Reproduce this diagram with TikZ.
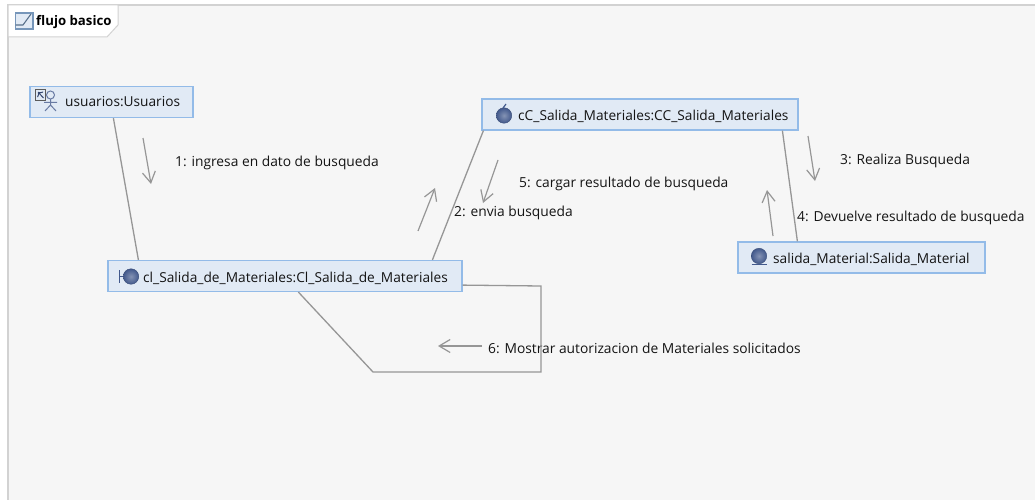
\documentclass[tikz,border=0pt]{standalone}
\usepackage{fontspec}
\setmainfont{Open Sans}
\usetikzlibrary{calc,arrows.meta}
\definecolor{framegray}{HTML}{D2D2D2}
\definecolor{panelgray}{HTML}{F6F6F6}
\definecolor{boxfill}{HTML}{E1EAF5}
\definecolor{boxline}{HTML}{93BBE8}
\definecolor{linkgray}{HTML}{969696}
\definecolor{ballblue}{HTML}{42598C}
\definecolor{textgray}{HTML}{141414}
\tikzset{
    lifeline/.style={draw=boxline, fill=boxfill, line width=1.2pt, minimum height=31pt, inner sep=0pt},
    caption/.style={anchor=west, inner sep=0pt, yshift=-1.5pt, text=textgray, font=\fontsize{13.8}{15}\selectfont},
    boxtext/.style={anchor=west, inner sep=0pt, yshift=-1pt, text=textgray, font=\fontsize{13.7}{15}\selectfont},
    link/.style={draw=linkgray, line width=1.3pt},
    message/.style={draw=linkgray, line width=1.2pt, -{Straight Barb[length=11pt,width=13pt]}},
    ball/.style={circle, draw=ballblue!85!black, inner color=ballblue!65, outer color=ballblue, minimum size=15.5pt, inner sep=0pt}
}
\begin{document}
\begin{tikzpicture}[x=1pt, y=-1pt]
    \useasboundingbox (0,0) rectangle (1035,500);
    % FRAME
    \fill[white] (0,0) rectangle (1035,500);
    \fill[panelgray, draw=framegray, line width=1.2pt] (1036,5) -- (8,5) -- (8,501) -- (1036,501);
    \fill[white, draw=framegray, line width=1pt] (8,5) -- (118,5) -- (118,25) -- (107,37) -- (8,37) -- cycle;
    \node[anchor=west, inner sep=0pt, yshift=-1.5pt, font=\bfseries\fontsize{13.2}{15}\selectfont] (title) at (36,21) {flujo basico};
    \draw[boxline!80!black, fill=boxfill, line width=1.2pt] (15.5,13) rectangle (33,29);
    \draw[boxline!60!black, line width=1.1pt] (15.5,25) -- (23,25) -- (31,14);
    % NODES
    % node usuarios
    \node[lifeline, minimum width=163pt] (usuarios) at (111.5,102) {};
    \node[boxtext] (usuariosText) at (65,101) {usuarios:Usuarios};
    % node cl
    \node[lifeline, minimum width=354pt] (cl) at (285,276) {};
    \node[boxtext] (clText) at (143,277) {cl\_Salida\_de\_Materiales:Cl\_Salida\_de\_Materiales};
    % node cC
    \node[lifeline, minimum width=316pt] (cC) at (640,114.5) {};
    \node[boxtext] (cCText) at (518,115) {cC\_Salida\_Materiales:CC\_Salida\_Materiales};
    % node salida
    \node[lifeline, minimum width=247pt] (salida) at (861.5,257.5) {};
    \node[boxtext] (salidaText) at (773,258) {salida\_Material:Salida\_Material};
    % ICONS
    % actor
    \draw[textgray!70, fill=boxfill, line width=0.9pt] (35,89) rectangle (45.5,100);
    \draw[ballblue!80!black, line width=1pt, ->] (43.5,98) -- (38,92);
    \draw[ballblue!80, line width=1pt] (50.5,95) circle (4pt);
    \draw[ballblue!80, line width=1pt] (50.5,99) -- (50.5,105) (44,102.5) -- (57,102.5) (50.5,105) -- (45,111) (50.5,105) -- (56,111);
    % boundary
    \draw[ballblue, line width=1.3pt] (119.5,270) -- (119.5,283) (119.5,276.5) -- (124,276.5);
    \node[ball] (clBall) at (131,276.5) {};
    % control
    \node[ball] (cCBall) at (504,115.5) {};
    \draw[ballblue, line width=1.2pt] (503,108) -- (506,104);
    % entity
    \node[ball] (salidaBall) at (759,256) {};
    \draw[ballblue, line width=1.3pt] (751.5,264.5) -- (766.5,264.5);
    % LABELS
    \node[caption] (m1) at (175,161) {1: ingresa en dato de busqueda};
    \node[caption] (m2) at (454,211) {2: envia busqueda};
    \node[caption] (m3) at (840,159) {3: Realiza Busqueda};
    \node[caption] (m4) at (797,216) {4: Devuelve resultado de busqueda};
    \node[caption] (m5) at (519,182) {5: cargar resultado de busqueda};
    \node[caption] (m6) at (488,347) {6: Mostrar autorizacion de Materiales solicitados};
    % ARROW ENDS
    \coordinate (a1) at (143,138);
    \coordinate (b1) at (151,184);
    \coordinate (a2) at (498,160);
    \coordinate (b2) at (483,203);
    \coordinate (a3) at (808,136);
    \coordinate (b3) at (815,181);
    \coordinate (a4) at (773,236);
    \coordinate (b4) at (767,190);
    \coordinate (a5) at (418,231);
    \coordinate (b5) at (435,188);
    \coordinate (a6) at (482,346);
    \coordinate (b6) at (438,346);
    \coordinate (loopA) at (541,286);
    \coordinate (loopB) at (541,372);
    \coordinate (loopC) at (373,372);
    % LINKS
    \draw[link] ($(usuarios.south west)+(84,0)$)--($(cl.north west)+(31,0)$);
    \draw[link] ($(cC.south west)+(2,0)$)--($(cl.north west)+(325,0)$);
    \draw[link] ($(cC.south west)+(301,0)$)--($(salida.north west)+(60,0)$);
    \draw[link] ($(cl.south east)+(0,-7)$)--(loopA)--(loopB)--(loopC)--($(cl.south west)+(191,0)$);
    % ARROWS
    \draw[message] (a1)--(b1);
    \draw[message] (a2)--(b2);
    \draw[message] (a3)--(b3);
    \draw[message] (a4)--(b4);
    \draw[message] (a5)--(b5);
    \draw[message] (a6)--(b6);
\end{tikzpicture}
\end{document}
